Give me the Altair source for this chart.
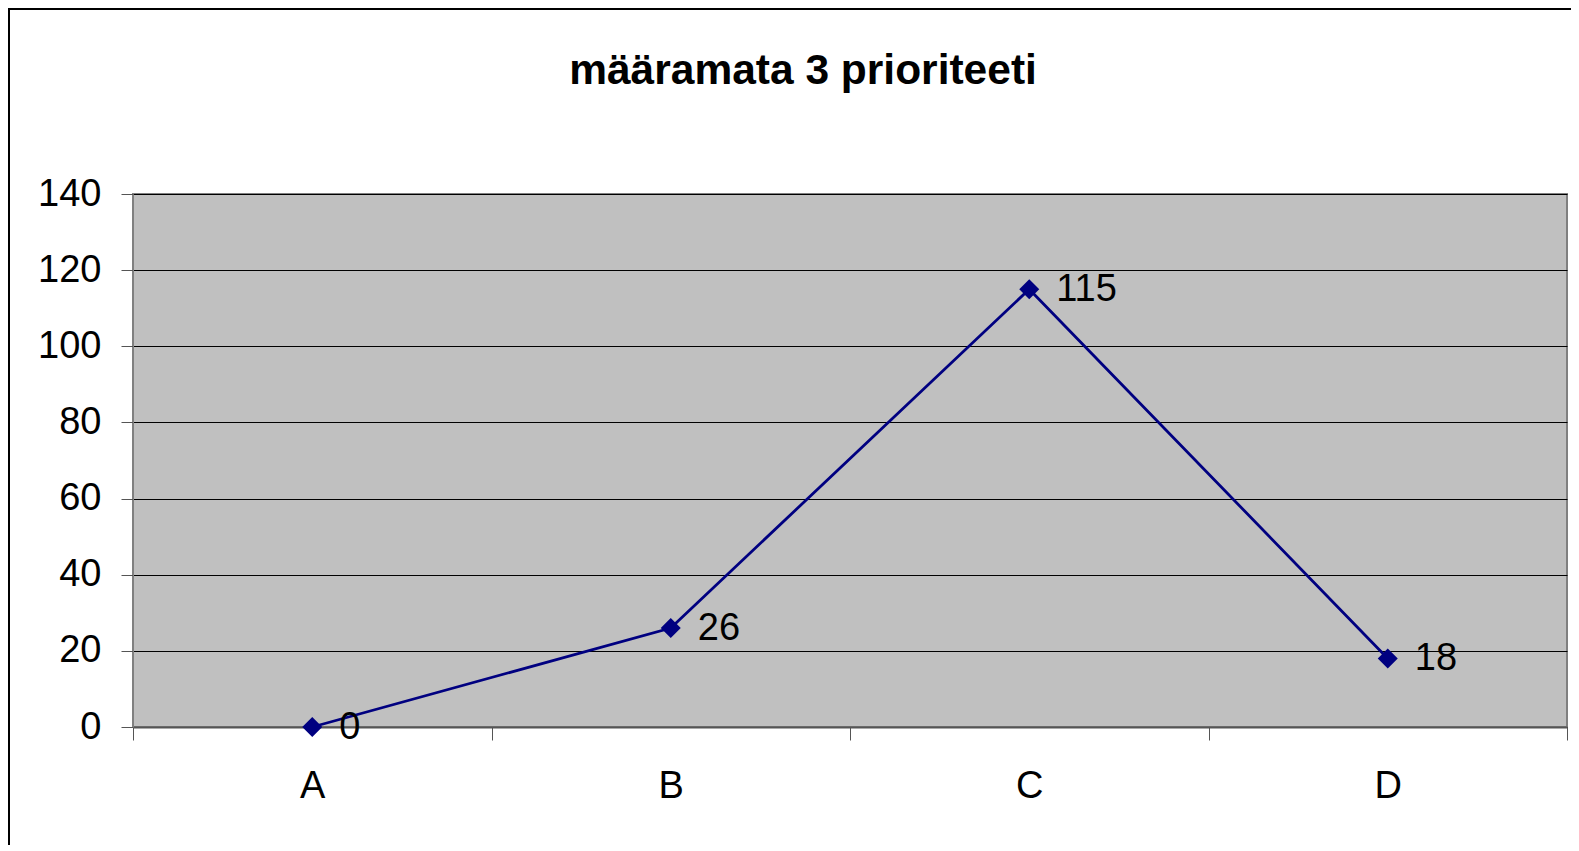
import altair as alt
import pandas as pd

categories = ["A", "B", "C", "D"]
values = [0, 26, 115, 18]
y_ticks = [0, 20, 40, 60, 80, 100, 120, 140]
title_text = "määramata 3 prioriteeti"

FONT = "Liberation Sans"
df = pd.DataFrame({"kategooria": categories, "väärtus": values})

x_enc = alt.X(
    "kategooria:N",
    sort=categories,
    scale=alt.Scale(type="band", paddingInner=0, paddingOuter=0),
    axis=alt.Axis(
        title=None, labelAngle=0, tickBand="extent", tickSize=13,
        labelPadding=27, labelFontSize=38, labelFont=FONT, labelColor="black",
        domainColor="#555555", domainWidth=2, tickColor="#555555", tickWidth=1,
        grid=False,
    ),
)
y_enc = alt.Y(
    "väärtus:Q",
    scale=alt.Scale(domain=[0, 140], nice=False, zero=True),
    axis=alt.Axis(
        values=y_ticks, title=None, tickSize=12, labelPadding=20,
        labelFontSize=38, labelFont=FONT, labelColor="black",
        grid=True, gridColor="black", gridWidth=1,
        domainColor="#808080", domainWidth=1, tickColor="#555555",
    ),
)

base = alt.Chart(df).encode(x=x_enc, y=y_enc)

border = alt.Chart(pd.DataFrame({"k": [0]})).mark_rect(
    filled=False, stroke="black", strokeWidth=2
).encode(
    x=alt.value(-124), x2=alt.value(1700),
    y=alt.value(-185), y2=alt.value(1000),
)

line = base.mark_line(color="#000080", strokeWidth=2.8)
points = base.mark_point(shape="diamond", filled=True, size=400, color="#000080", opacity=1)
labels = base.mark_text(
    align="left", baseline="middle", dx=27, dy=1, fontSize=38, font=FONT, color="black"
).encode(text="väärtus:Q")

chart = alt.layer(border, line, points, labels).properties(
    width=1434,
    height=533,
    autosize="none",
    padding={"left": 125, "top": 186, "right": 4, "bottom": 118},
    title=alt.TitleParams(
        title_text, fontSize=42.5, fontWeight="bold", font=FONT, color="black",
        anchor="middle", frame="group", dx=-47, offset=-84,
    ),
    background="white",
).configure_view(fill="#C0C0C0", stroke="#808080", strokeWidth=2)

chart.save("out.html", embed_options={"renderer": "svg", "actions": False})
